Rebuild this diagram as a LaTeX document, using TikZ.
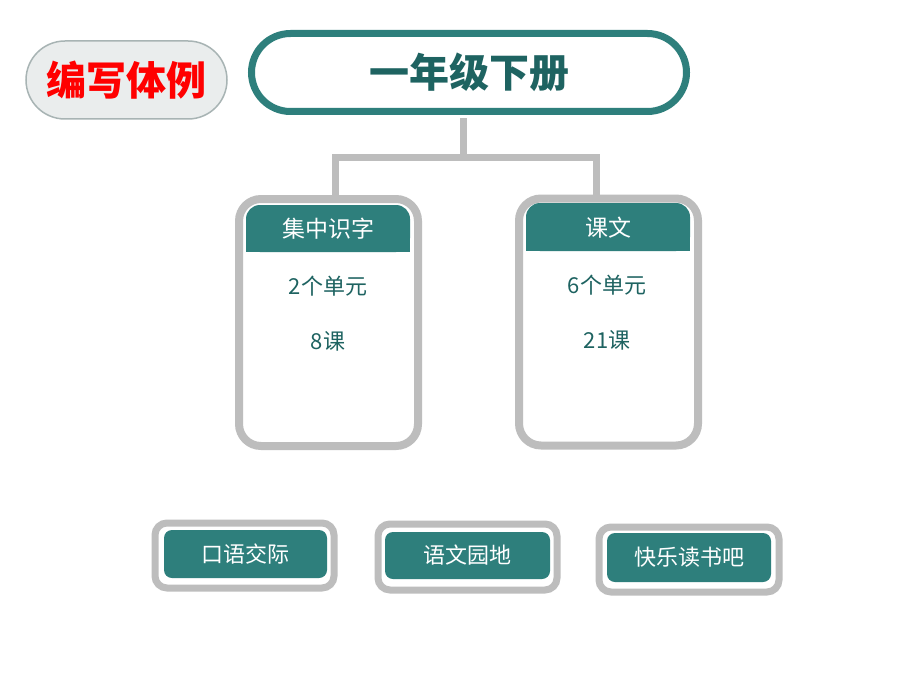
\documentclass[tikz,border=0pt]{standalone}
\usepackage{fontspec}
\setmainfont{Noto Sans CJK SC}
\definecolor{boxteal}{HTML}{2E7F7C}
\definecolor{textteal}{HTML}{1E6361}
\definecolor{linegray}{HTML}{BDBDBD}
\definecolor{tagfill}{HTML}{EAEDED}
\definecolor{tagline}{HTML}{A8B4B4}
\begin{document}
\begin{tikzpicture}[x=1pt,y=-1pt,
		tagbox/.style={draw=tagline,fill=tagfill,line width=1.5pt,minimum width=201pt,minimum height=78pt,rounded corners=39pt,inner sep=0pt,text=red,font=\bfseries\fontsize{40}{40}\selectfont},
		titlebox/.style={draw=boxteal,fill=white,line width=7pt,minimum width=435pt,minimum height=78pt,rounded corners=39pt,inner sep=0pt,text=textteal,font=\bfseries\fontsize{40}{40}\selectfont},
		card/.style={draw=linegray,fill=white,line width=8pt,minimum width=179pt,minimum height=247pt,rounded corners=22pt},
		headtext/.style={text=white,font=\fontsize{23}{23}\selectfont},
		bodytext/.style={text=textteal,font=\fontsize{22}{22}\selectfont},
		frame/.style={draw=linegray,fill=white,line width=7pt,minimum height=65pt,rounded corners=12pt},
		button/.style={fill=boxteal,rounded corners=8pt,inner sep=0pt,text=white,font=\fontsize{22}{22}\selectfont},
		link/.style={draw=linegray,line width=7pt,line join=miter}]
	\useasboundingbox[fill=white] (0,0) rectangle (920,690);
	% top row
	\node[tagbox] (tag) at (126.5,80) {编写体例};
	\node[titlebox] (title) at (469,72.5) {一年级下册};
	% two cards
	\node[card] (leftcard) at (328.5,322.5) {};
	\node[card] (rightcard) at (608.5,322) {};
	\fill[boxteal,rounded corners=14pt] (246,205) rectangle (410,252);
	\fill[boxteal] (246,225) rectangle (410,252);
	\fill[boxteal,rounded corners=14pt] (526,203) rectangle (690,251);
	\fill[boxteal] (526,223) rectangle (690,251);
	\node[headtext] (lefthead) at (328,229) {集中识字};
	\node[headtext] (righthead) at (608,228) {课文};
	\node[bodytext] (leftunits) at (328,286) {2个单元};
	\node[bodytext] (leftlessons) at (328,341) {8课};
	\node[bodytext] (rightunits) at (607,285) {6个单元};
	\node[bodytext] (rightlessons) at (607,340) {21课};
	% tree
	\coordinate (fork) at (463,157);
	\coordinate (leftdrop) at (335.5,157);
	\coordinate (rightdrop) at (596.5,157);
	\draw[link] ([yshift=-3.5pt]title.south -| fork) -- (fork);
	\draw[link] (leftcard.north -| leftdrop) -- (leftdrop) -- (rightdrop) -- (rightcard.north -| rightdrop);
	% bottom buttons
	\node[frame,minimum width=179pt] (talkframe) at (244.5,555.5) {};
	\node[button,minimum width=163pt,minimum height=48pt] (talk) at (245.5,554) {口语交际};
	\node[frame,minimum width=179pt,minimum height=66pt] (gardenframe) at (467.5,557) {};
	\node[button,minimum width=165pt,minimum height=47pt] (garden) at (467.5,555.5) {语文园地};
	\node[frame,minimum width=180pt] (readframe) at (689,559.5) {};
	\node[button,minimum width=164pt,minimum height=49pt] (read) at (689,557.5) {快乐读书吧};
\end{tikzpicture}
\end{document}
